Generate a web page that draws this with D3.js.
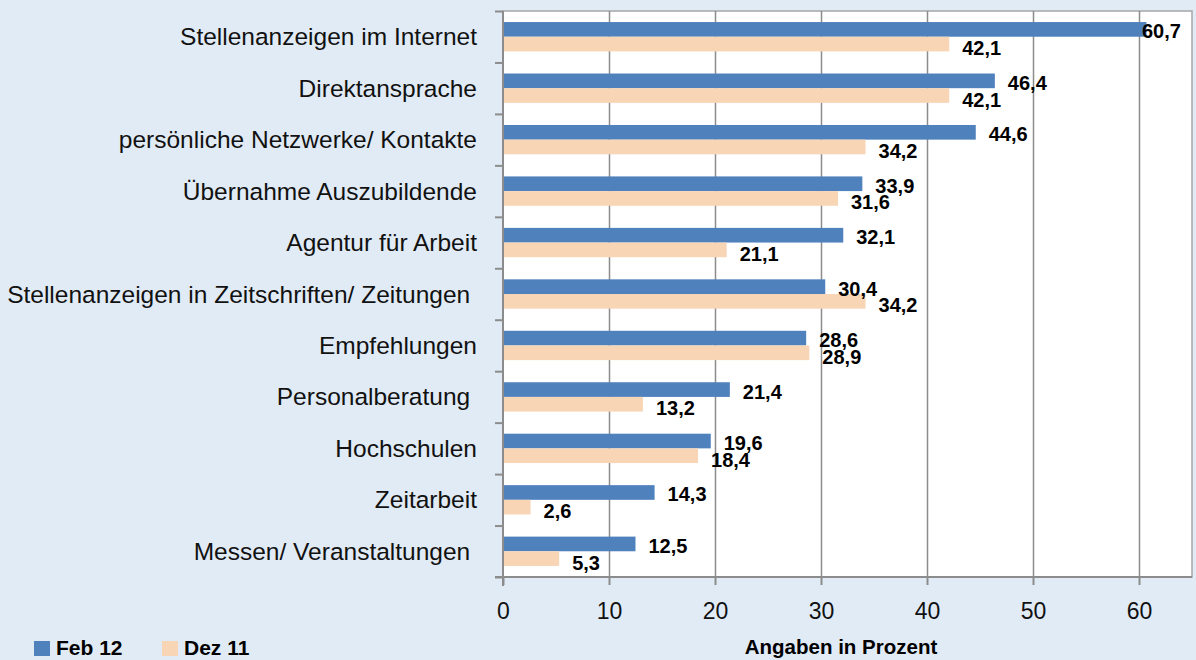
<!DOCTYPE html>
<html>
<head>
<meta charset="utf-8">
<script src="https://cdn.jsdelivr.net/npm/d3@7"></script>
<style>
  body { margin: 0; background: #e1ebf5; }
  svg { display: block; font-family: "Liberation Sans", Arial, sans-serif; }
</style>
</head>
<body>
<script>
let categories = [
  "Stellenanzeigen im Internet",
  "Direktansprache",
  "persönliche Netzwerke/ Kontakte",
  "Übernahme Auszubildende",
  "Agentur für Arbeit",
  "Stellenanzeigen in Zeitschriften/ Zeitungen ",
  "Empfehlungen",
  "Personalberatung ",
  "Hochschulen",
  "Zeitarbeit",
  "Messen/ Veranstaltungen "
];
let seriesNames = ["Feb 12", "Dez 11"];
let feb12 = [60.7, 46.4, 44.6, 33.9, 32.1, 30.4, 28.6, 21.4, 19.6, 14.3, 12.5];
let dez11 = [42.1, 42.1, 34.2, 31.6, 21.1, 34.2, 28.9, 13.2, 18.4, 2.6, 5.3];
let xTicks = [0, 10, 20, 30, 40, 50, 60];
let axisTitle = "Angaben in Prozent";

let w = 1196;
let h = 660;
let colors = ["#4f81bd", "#f7d5b5"];
let plotLeft = 503, plotRight = 1192, plotTop = 11, plotBottom = 577;

let svg = d3.select("body")
  .append("svg")
  .attr("width", w)
  .attr("height", h);

svg.append("rect")
  .attr("width", w)
  .attr("height", h)
  .attr("fill", "#e1ebf5");

// plot area
svg.append("rect")
  .attr("x", plotLeft)
  .attr("y", plotTop)
  .attr("width", plotRight - plotLeft)
  .attr("height", plotBottom - plotTop)
  .attr("fill", "#fff")
  .attr("stroke", "#a6a6a6")
  .attr("stroke-width", 1.5);

let xScale = d3.scaleLinear().domain([0, 65]).range([plotLeft, plotRight]);
let yScale = d3.scaleBand().domain(categories).range([plotTop, plotBottom]);
let inner = d3.scaleBand()
  .domain([0, 1])
  .range([yScale.bandwidth() * 0.215, yScale.bandwidth() * 0.785]);

// gridlines
svg.append("g")
  .attr("transform", "translate(0," + plotBottom + ")")
  .call(d3.axisBottom(xScale).tickValues(xTicks.slice(1)).tickSize(-(plotBottom - plotTop)).tickFormat(""))
  .call(g => g.select(".domain").remove())
  .call(g => g.selectAll("line").attr("stroke", "#8c8c8c").attr("stroke-width", 1.5));

let rows = categories.map((c, i) => ({ cat: c, vals: [feb12[i], dez11[i]] }));

let groups = svg.selectAll(".row")
  .data(rows)
  .enter()
  .append("g")
  .attr("class", "row")
  .attr("transform", d => "translate(0," + yScale(d.cat) + ")");

groups.selectAll("rect")
  .data(d => d.vals)
  .enter()
  .append("rect")
  .attr("x", xScale(0))
  .attr("y", (d, i) => inner(i))
  .attr("width", d => xScale(d) - xScale(0))
  .attr("height", inner.bandwidth())
  .attr("fill", (d, i) => colors[i]);

// value labels, kept inside the plot on the right
groups.selectAll("text")
  .data(d => d.vals)
  .enter()
  .append("text")
  .attr("x", d => Math.min(xScale(d) + 13, plotRight - 50))
  .attr("y", (d, i) => inner(i) + inner.bandwidth() / 2 + 2 + i * 2)
  .attr("dominant-baseline", "central")
  .style("font-size", "20px")
  .style("font-weight", "bold")
  .text(d => d3.format(".1f")(d).replace(".", ","));

// y axis: tick marks at band edges
let yIdx = d3.scaleLinear().domain([0, categories.length]).range([plotTop, plotBottom]);
svg.append("g")
  .attr("transform", "translate(" + plotLeft + ",0)")
  .call(d3.axisLeft(yIdx).tickValues(d3.range(categories.length + 1)).tickSize(8).tickFormat("").tickSizeOuter(0))
  .call(g => g.select(".domain").attr("d", "M0," + plotTop + "V" + (plotBottom + 9)))
  .call(g => g.selectAll("line,path").attr("stroke", "#8c8c8c").attr("stroke-width", 2));

// category labels
svg.append("g")
  .selectAll("text")
  .data(categories)
  .enter()
  .append("text")
  .attr("x", 477)
  .attr("y", d => yScale(d) + yScale.bandwidth() / 2)
  .attr("text-anchor", "end")
  .attr("dominant-baseline", "central")
  .style("white-space", "pre")
  .style("font-size", "24.5px")
  .attr("fill", "#111")
  .text(d => d);

// x axis
svg.append("g")
  .attr("transform", "translate(0," + plotBottom + ")")
  .call(d3.axisBottom(xScale).tickValues(xTicks).tickSize(8).tickPadding(18).tickSizeOuter(0))
  .call(g => g.select(".domain").attr("d", "M" + (plotLeft - 8) + ",0H" + plotRight))
  .call(g => g.selectAll("line,path").attr("stroke", "#8c8c8c").attr("stroke-width", 2))
  .call(g => g.selectAll("text").attr("fill", "#111").style("font-size", "23px").style("font-family", "Liberation Sans, Arial, sans-serif"));

svg.append("text")
  .attr("x", 841)
  .attr("y", 654)
  .attr("text-anchor", "middle")
  .style("font-size", "20.5px")
  .style("font-weight", "bold")
  .text(axisTitle);

// legend
let legend = svg.selectAll(".legend")
  .data(seriesNames)
  .enter()
  .append("g")
  .attr("class", "legend")
  .attr("transform", (d, i) => "translate(" + (34 + i * 128) + ",641)");
legend.append("rect")
  .attr("width", 16)
  .attr("height", 15)
  .attr("fill", (d, i) => colors[i]);
legend.append("text")
  .attr("x", 22)
  .attr("y", 14)
  .style("font-size", "21px")
  .style("font-weight", "bold")
  .text(d => d);
</script>
</body>
</html>
